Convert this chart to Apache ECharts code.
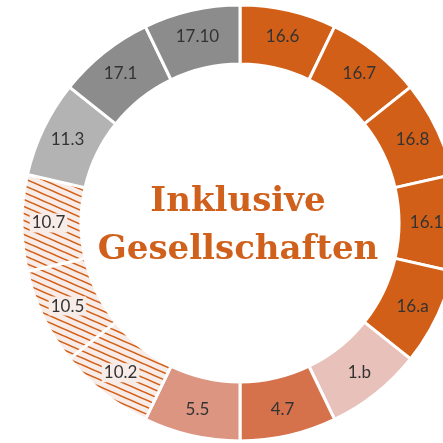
<!DOCTYPE html>
<html>
<head>
<meta charset="utf-8">
<script src="https://cdn.jsdelivr.net/npm/echarts@6/dist/echarts.min.js"></script>
<style>
  html, body { margin: 0; padding: 0; background: #fff; }
  #chart { width: 443px; height: 443px; }
</style>
</head>
<body>
<div id="chart"></div>
<script>
// Ziele, im Uhrzeigersinn ab 12 Uhr
const goalLabels = ['16.6', '16.7', '16.8', '16.10', '16.a', '1.b', '4.7', '5.5', '10.2', '10.5', '10.7', '11.3', '17.1', '17.10'];
// alle Segmente gleich groß
const goalValues = [1, 1, 1, 1, 1, 1, 1, 1, 1, 1, 1, 1, 1, 1];
// welche Segmente schraffiert sind
const hatchedGoals = ['10.2', '10.5', '10.7'];

const ORANGE = '#d25f17';
const HATCH_BG = '#f8ece8';

const segmentColors = {
  '16.6': ORANGE, '16.7': ORANGE, '16.8': ORANGE, '16.10': ORANGE, '16.a': ORANGE,
  '1.b': '#e8c1ba',
  '4.7': '#d6724b',
  '5.5': '#dc9581',
  '11.3': '#b3b3b3',
  '17.1': '#8c8c8c',
  '17.10': '#8c8c8c'
};

// Schraffur-Muster als Canvas
const makeHatch = () => {
  const w = 16, h = 7
  const c = document.createElement('canvas')
  c.width = w
  c.height = h
  const ctx = c.getContext('2d')
  ctx.fillStyle = HATCH_BG
  ctx.fillRect(0, 0, w, h)
  ctx.strokeStyle = ORANGE
  ctx.lineWidth = 1.6
  for (let k = -1; k <= 1; k++) {
    ctx.beginPath()
    ctx.moveTo(-2, -2 * h / w + k * h)
    ctx.lineTo(w + 2, (w + 2) * h / w + k * h)
    ctx.stroke()
  }
  return c
}
const hatch = { image: makeHatch(), repeat: 'repeat' }

const chart = echarts.init(document.getElementById('chart'))

const seriesData = goalLabels.map((name, i) => {
  const isHatched = hatchedGoals.includes(name)
  return {
    name,
    value: goalValues[i],
    itemStyle: { color: isHatched ? hatch : segmentColors[name] },
    label: isHatched
      ? { backgroundColor: HATCH_BG, padding: [1, 2] }
      : {}
  }
})

chart.setOption({
  animation: false,
  series: [{
    type: 'pie',
    center: [240, 223],
    radius: [159, 218],
    startAngle: 90,
    clockwise: true,
    avoidLabelOverlap: false,
    itemStyle: { borderColor: '#fff', borderWidth: 3 },
    label: {
      show: true,
      position: 'inside',
      formatter: '{b}',
      fontFamily: 'Lato',
      fontSize: 17,
      color: '#333'
    },
    labelLine: { show: false },
    emphasis: { disabled: true },
    data: seriesData
  }],
  graphic: [{
    type: 'text',
    x: 238,
    y: 226,
    style: {
      text: 'Inklusive\nGesellschaften',
      textAlign: 'center',
      textVerticalAlign: 'middle',
      font: 'bold 34px "DejaVu Serif"',
      lineHeight: 48,
      fill: '#d0611d'
    }
  }]
})
</script>
</body>
</html>
